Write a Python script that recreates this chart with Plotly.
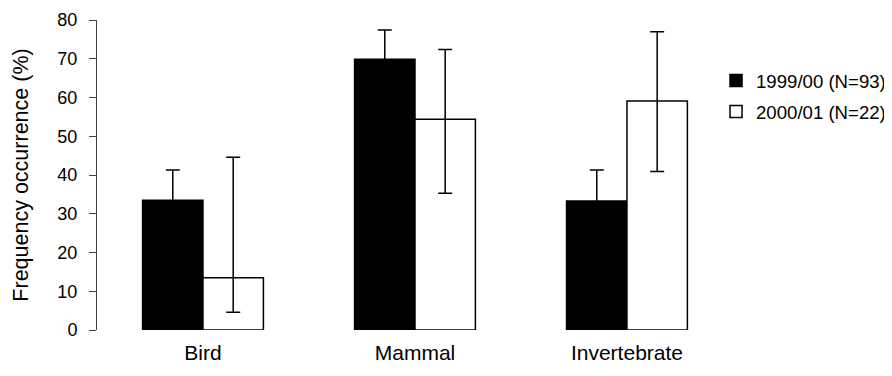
import plotly.graph_objects as go

categories = ["Bird", "Mammal", "Invertebrate"]

series1_name = "1999/00 (N=93)"
series1_values = [33.5, 69.9, 33.3]
series1_err = [7.8, 7.5, 8.0]

series2_name = "2000/01 (N=22)"
series2_values = [13.5, 54.4, 59.1]
series2_err_plus = [31.1, 18.0, 17.9]
series2_err_minus = [8.9, 19.1, 18.2]

y_ticks = [0, 10, 20, 30, 40, 50, 60, 70, 80]
y_title = "Frequency occurrence (%)"

FONT = "Arial, 'Liberation Sans', sans-serif"

fig = go.Figure()
fig.add_trace(go.Bar(
    x=categories, y=series1_values, name=series1_name, legendgroup="a",
    marker=dict(color="black", line=dict(color="black", width=1.5)),
    error_y=dict(type="data", array=series1_err, symmetric=True,
                 color="black", thickness=1.5, width=7),
))
fig.add_trace(go.Bar(
    x=categories, y=series2_values, name=series2_name, legendgroup="b",
    marker=dict(color="white", line=dict(color="black", width=1.5)),
    error_y=dict(type="data", array=series2_err_plus, arrayminus=series2_err_minus,
                 symmetric=False, color="black", thickness=1.5, width=7),
))

fig.update_layout(
    width=892, height=376,
    margin=dict(l=89, r=0, t=12, b=54),
    paper_bgcolor="white", plot_bgcolor="white",
    barmode="group", bargap=0.43, bargroupgap=0,
    font=dict(family=FONT, color="black", size=16),
    showlegend=True,
    legend=dict(
        x=0.7709, y=0.865, xanchor="left", yanchor="top",
        font=dict(family=FONT, size=18.6, color="black"),
        bgcolor="rgba(0,0,0,0)", itemwidth=30, tracegroupgap=4,
    ),
)

fig.update_xaxes(
    type="category", range=[-0.5, 3.288], automargin=False,
    showline=False, showgrid=False, zeroline=False, ticks="",
    tickfont=dict(family=FONT, size=21, color="black"),
    ticklabelstandoff=8,
)
fig.update_yaxes(
    range=[0, 80], tickvals=y_ticks, ticktext=[str(v) for v in y_ticks],
    automargin=False,
    showline=True, linecolor="#404040", linewidth=1,
    ticks="outside", ticklen=7, tickcolor="#404040", tickwidth=1,
    showgrid=False, zeroline=False,
    tickfont=dict(family=FONT, size=18, color="black"),
    ticklabelstandoff=8,
    title=dict(text=y_title, font=dict(family=FONT, size=21.5, color="black"), standoff=22),
)

fig.write_html("out.html")
